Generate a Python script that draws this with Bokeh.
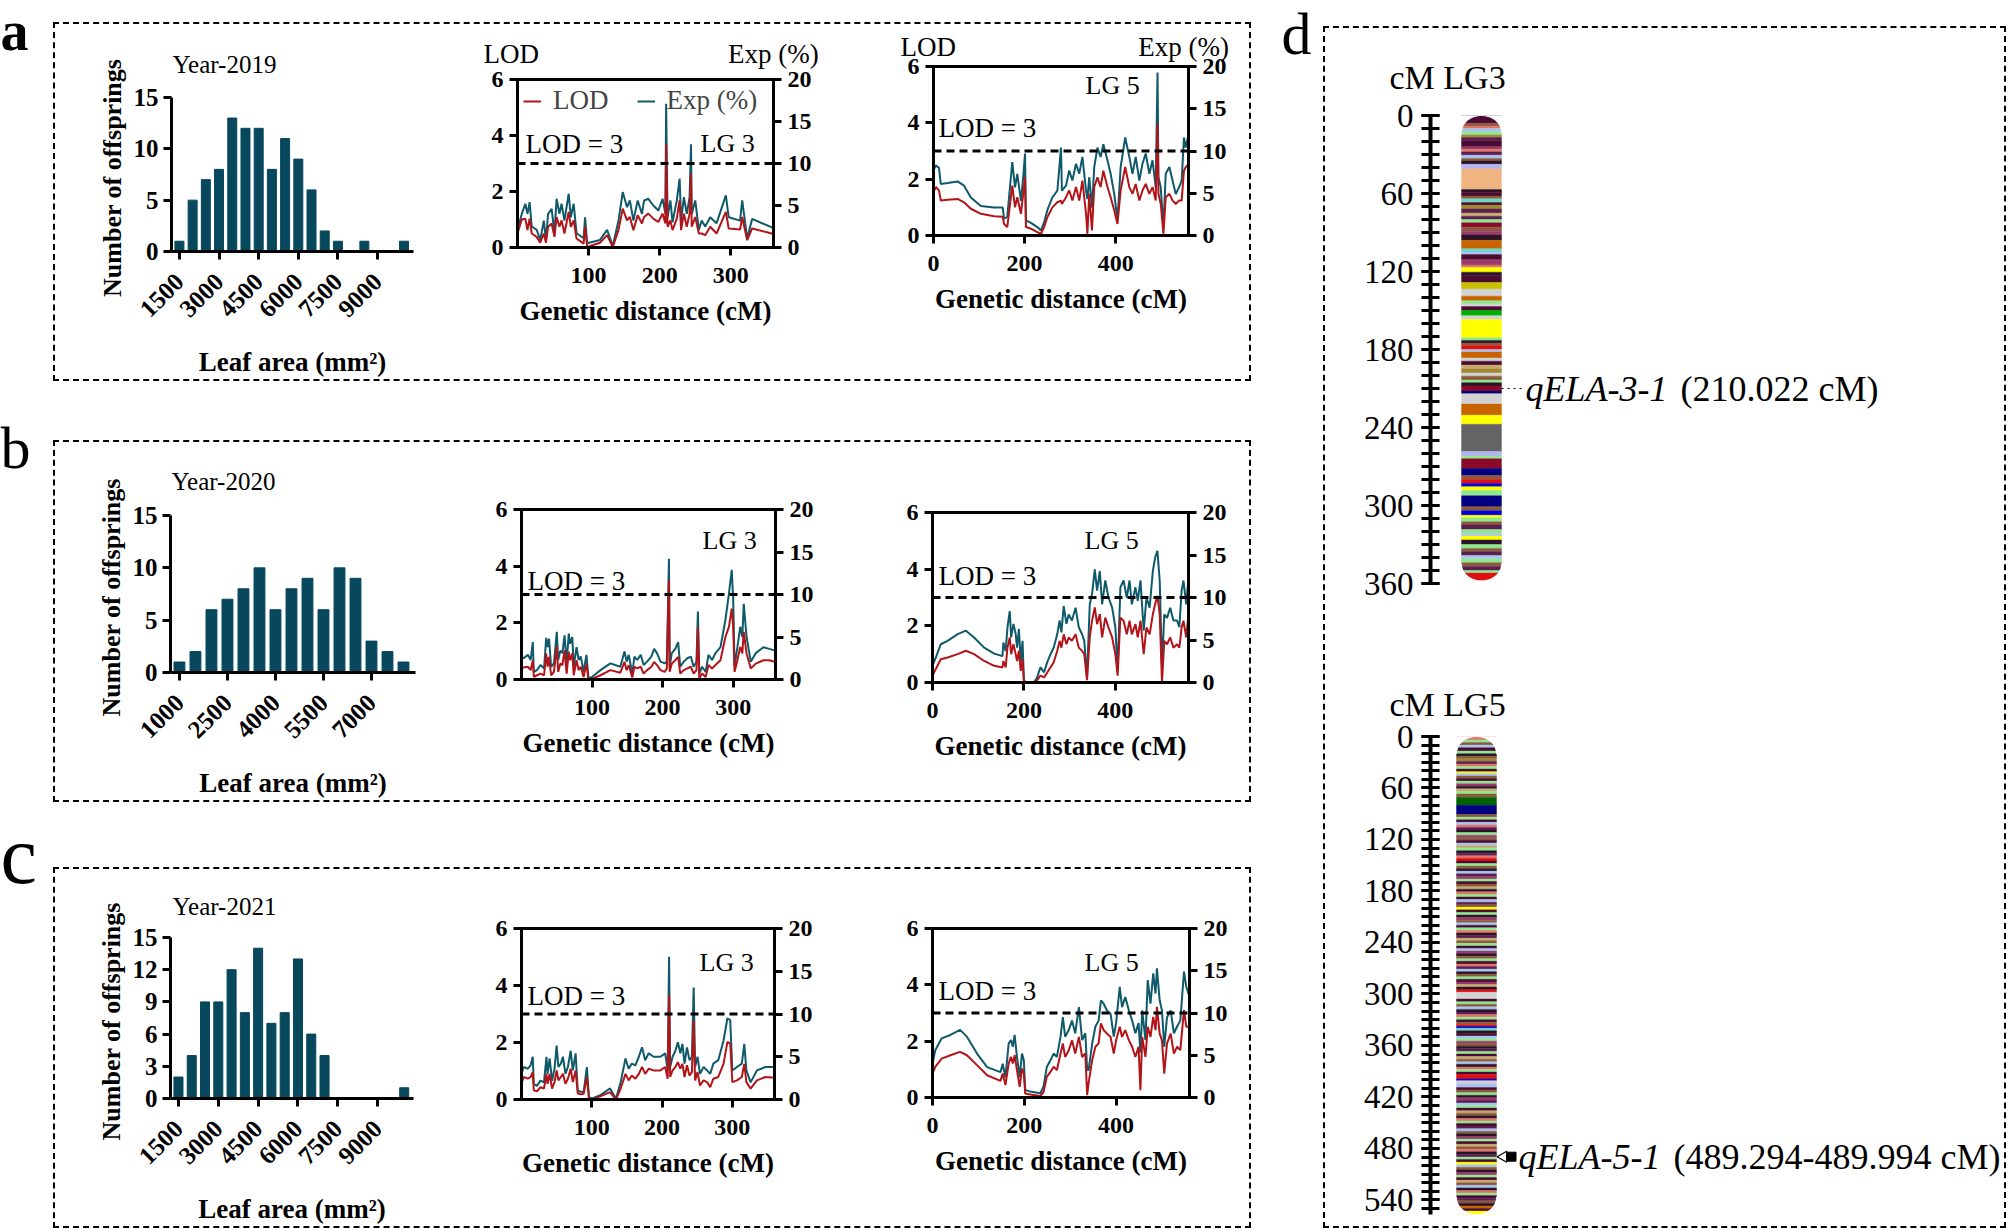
import math
import numpy as np
from bokeh.plotting import figure
from bokeh.models import (Range1d, LinearAxis, FixedTicker, Span, Label, Legend,
                          LegendItem, Spacer)
from bokeh.layouts import row, column
from bokeh.embed import file_html
from bokeh.resources import INLINE
from bokeh.core.properties import value

# ---------------------------------------------------------------- data
# histograms: bin centre (leaf area, mm2) and number of offsprings
H2019_BINS = [1500, 2000, 2500, 3000, 3500, 4000, 4500, 5000, 5500, 6000, 6500, 7000, 7500, 8500, 10000]
H2019_COUNTS = [1, 5, 7, 8, 13, 12, 12, 8, 11, 9, 6, 2, 1, 1, 1]
H2020_BINS = [1000, 1500, 2000, 2500, 3000, 3500, 4000, 4500, 5000, 5500, 6000, 6500, 7000, 7500, 8000]
H2020_COUNTS = [1, 2, 6, 7, 8, 10, 6, 8, 9, 6, 10, 9, 3, 2, 1]
H2021_BINS = [1500, 2000, 2500, 3000, 3500, 4000, 4500, 5000, 5500, 6000, 6500, 7000, 10000]
H2021_COUNTS = [2, 4, 9, 9, 12, 8, 14, 7, 8, 13, 6, 4, 1]
H_XTICKS_A = [1500, 3000, 4500, 6000, 7500, 9000]
H_XTICKS_B = [1000, 2500, 4000, 5500, 7000]

# QTL scans: (genetic distance cM, LOD, Exp %)
Y2019_LG3 = [
    (0, 0.50, 2.1), (6, 1.00, 4.0), (11, 1.03, 5.2), (14, 0.62, 4.0), (17, 1.03, 5.4),
    (20, 0.50, 2.5), (27, 0.38, 2.1), (32, 0.17, 0.9), (37, 0.50, 3.2), (40, 0.17, 0.9),
    (43, 0.74, 4.0), (48, 0.86, 4.6), (52, 0.38, 1.7), (55, 1.09, 5.8), (59, 0.74, 4.0),
    (62, 0.97, 5.2), (66, 0.50, 3.2), (72, 1.27, 6.4), (75, 0.74, 3.6), (79, 0.97, 5.2),
    (83, 0.32, 1.7), (93, 0.14, 1.1), (95, 0.74, 3.6), (98, 0.02, 0.5), (116, 0.17, 0.9),
    (126, 0.44, 2.1), (134, 0.02, 0.2), (142, 0.62, 3.2), (148, 1.39, 6.6), (154, 0.97, 4.8),
    (158, 1.09, 5.6), (163, 0.62, 3.2), (169, 1.15, 5.6), (175, 0.86, 4.0), (178, 1.09, 5.6),
    (184, 1.21, 5.8), (191, 1.03, 5.0), (198, 0.91, 4.4), (204, 1.21, 5.8), (208, 0.86, 4.0),
    (209, 3.70, 17.1), (211, 0.74, 3.6), (215, 0.97, 5.6), (218, 0.62, 3.0), (224, 1.03, 5.6),
    (228, 1.69, 8.2), (230, 0.62, 3.2), (234, 1.21, 6.0), (238, 0.74, 4.0), (242, 1.21, 6.0),
    (244, 2.64, 12.3), (245, 0.74, 4.0), (250, 1.09, 5.6), (255, 0.50, 2.1), (259, 0.50, 3.2),
    (264, 0.44, 2.5), (271, 0.74, 3.6), (280, 0.50, 2.9), (293, 1.27, 6.2), (297, 0.68, 3.6),
    (313, 0.64, 3.2), (316, 1.09, 5.6), (323, 0.26, 1.1), (330, 0.68, 3.4), (360, 0.48, 2.3),
]
Y2019_LG5 = [
    (0, 1.54, 7.7), (5, 1.72, 8.3), (12, 1.60, 8.0), (16, 1.24, 6.1), (31, 1.27, 6.2),
    (53, 1.30, 6.4), (67, 1.18, 5.9), (82, 0.95, 4.5), (104, 0.77, 3.5), (133, 0.68, 3.3),
    (152, 0.67, 3.3), (155, 0.41, 2.0), (162, 0.30, 2.2), (173, 1.77, 8.7), (179, 1.00, 5.7),
    (184, 1.36, 7.3), (192, 0.77, 4.1), (197, 1.48, 6.9), (201, 2.07, 9.7), (203, 0.30, 1.8),
    (214, 0.24, 1.5), (228, 0.12, 1.0), (236, 0.06, 0.6), (243, 0.30, 1.6), (250, 0.65, 3.0),
    (261, 1.00, 4.5), (272, 1.18, 5.3), (280, 1.24, 10.4), (282, 1.12, 5.3), (291, 1.36, 5.9),
    (298, 1.60, 7.7), (305, 1.24, 6.5), (313, 1.72, 8.5), (320, 1.24, 7.3), (327, 1.95, 9.3),
    (335, 0.77, 5.3), (338, 0.06, 4.3), (342, 1.48, 6.9), (348, 0.18, 3.3), (353, 1.72, 8.1),
    (360, 2.07, 10.4), (367, 1.72, 9.3), (373, 2.30, 10.8), (382, 1.72, 8.9), (389, 1.36, 7.3),
    (397, 0.89, 4.9), (404, 0.41, 1.8), (411, 1.60, 8.1), (421, 2.43, 11.6), (430, 1.72, 9.3),
    (437, 1.48, 7.3), (444, 1.83, 9.3), (452, 1.24, 6.5), (459, 1.60, 8.5), (466, 1.83, 9.7),
    (474, 1.48, 7.3), (481, 1.72, 8.9), (488, 1.24, 5.7), (492, 3.96, 19.3), (494, 1.48, 6.9),
    (499, 1.12, 5.7), (505, 0.06, 1.0), (510, 1.36, 7.3), (518, 1.48, 8.1), (525, 1.24, 6.5),
    (532, 1.12, 4.9), (539, 1.24, 5.7), (545, 1.24, 6.5), (550, 2.30, 11.6), (554, 2.43, 10.4),
    (560, 2.54, 12.0),
]
Y2020_LG3 = [
    (0, 0.45, 2.7), (3, 0.42, 2.5), (9, 0.45, 2.9), (13, 0.33, 2.3), (16, 0.68, 4.4),
    (17.5, 0.09, 0.9), (22, 0.15, 1.1), (27, 0.21, 1.7), (32, 0.15, 1.3), (35, 0.92, 4.9),
    (37, 0.45, 3.8), (39, 0.80, 4.8), (42, 0.15, 1.5), (46, 0.27, 1.9), (50, 1.15, 5.6),
    (52, 0.27, 2.3), (55, 0.56, 3.4), (58, 0.51, 3.1), (61, 1.03, 5.2), (64, 0.21, 1.9),
    (67, 0.98, 5.4), (69, 0.68, 4.2), (72, 0.92, 5.0), (74, 0.15, 1.5), (78, 0.68, 3.8),
    (81, 0.33, 2.3), (84, 0.45, 2.7), (88, 0.09, 0.9), (92, 0.56, 2.9), (95, 0.00, 0.1),
    (100, 0.02, 0.3), (112, 0.15, 1.1), (126, 0.33, 1.9), (140, 0.24, 1.5), (146, 0.62, 3.3),
    (149, 0.33, 2.1), (152, 0.51, 2.9), (157, 0.07, 0.7), (160, 0.45, 2.7), (164, 0.39, 2.3),
    (169, 0.45, 2.9), (173, 0.21, 1.7), (178, 0.33, 2.1), (184, 0.45, 2.7), (188, 0.62, 3.6),
    (192, 0.51, 3.1), (197, 0.33, 2.1), (203, 0.27, 1.9), (206, 0.39, 2.1), (209, 3.50, 14.2),
    (210, 0.27, 1.5), (213, 0.56, 3.1), (218, 0.68, 3.6), (222, 0.80, 4.4), (225, 0.21, 1.5),
    (230, 0.33, 2.1), (235, 0.39, 2.5), (240, 0.45, 2.7), (244, 0.21, 1.5), (248, 0.33, 2.1),
    (250, 1.86, 8.0), (252, 0.04, 0.7), (256, 0.21, 1.5), (261, 0.09, 0.9), (265, 0.51, 2.9),
    (270, 0.39, 2.3), (275, 0.51, 3.1), (282, 0.68, 3.8), (289, 1.50, 7.0), (294, 1.86, 10.1),
    (298, 2.50, 12.9), (300, 1.86, 9.5), (302, 0.27, 1.5), (306, 0.68, 3.8), (310, 1.15, 6.2),
    (313, 0.92, 5.0), (315, 1.68, 8.9), (319, 0.92, 5.0), (325, 0.39, 2.1), (332, 0.56, 3.1),
    (343, 0.68, 3.8), (351, 0.68, 3.6), (360, 0.62, 3.4),
]
Y2020_LG5 = [
    (0, 0.24, 2.0), (7, 0.47, 2.9), (18, 0.82, 4.5), (33, 0.88, 4.9), (55, 1.00, 5.7),
    (73, 1.12, 6.1), (91, 1.00, 5.3), (113, 0.76, 4.1), (135, 0.59, 3.4), (153, 0.53, 3.1),
    (155, 0.76, 4.7), (160, 0.53, 3.7), (164, 1.23, 6.5), (169, 1.59, 8.4), (172, 1.00, 5.3),
    (177, 1.35, 6.9), (182, 1.00, 5.7), (185, 0.76, 4.1), (189, 1.12, 6.3), (193, 0.41, 2.5),
    (197, 0.82, 4.9), (200, 0.02, 0.2), (207, 0.00, 0.0), (222, 0.00, 0.0), (229, 0.08, 0.6),
    (236, 0.24, 1.8), (244, 0.18, 1.2), (251, 0.35, 2.4), (258, 0.53, 3.3), (265, 0.71, 4.1),
    (273, 1.12, 5.7), (278, 1.47, 7.3), (282, 1.23, 5.9), (287, 1.70, 9.0), (293, 1.35, 6.9),
    (298, 1.59, 8.0), (305, 1.47, 7.3), (313, 1.70, 8.8), (320, 1.23, 6.5), (327, 1.12, 5.7),
    (332, 1.00, 4.9), (338, 0.08, 0.6), (344, 1.59, 9.2), (349, 2.18, 10.4), (355, 2.65, 13.3),
    (360, 2.06, 10.8), (366, 2.41, 13.1), (371, 1.59, 9.2), (378, 2.29, 12.0), (385, 1.94, 10.0),
    (393, 1.59, 8.8), (400, 1.00, 6.5), (405, 0.24, 1.4), (411, 2.29, 11.2), (418, 2.18, 12.0),
    (425, 1.70, 10.0), (431, 2.18, 12.0), (436, 1.70, 9.2), (444, 2.06, 11.2), (449, 1.59, 9.6),
    (455, 2.18, 12.0), (462, 1.00, 6.1), (468, 1.94, 10.0), (475, 1.70, 8.8), (482, 2.41, 13.1),
    (487, 2.76, 14.7), (492, 3.06, 15.5), (497, 2.41, 12.0), (502, 0.00, 1.8), (507, 1.47, 8.0),
    (513, 1.35, 7.6), (520, 1.59, 8.8), (527, 1.23, 7.3), (535, 1.35, 7.3), (540, 1.23, 6.5),
    (545, 1.94, 10.8), (549, 2.18, 12.0), (555, 1.59, 9.2), (560, 2.41, 12.3),
]
Y2021_LG3 = [
    (0, 0.55, 3.0), (3, 0.79, 3.8), (9, 0.73, 3.6), (13, 0.79, 4.0), (16, 0.96, 5.0),
    (17.5, 0.32, 1.8), (22, 0.29, 1.6), (27, 0.43, 2.2), (32, 0.38, 2.0), (35.5, 0.90, 5.0),
    (37, 0.55, 3.0), (40, 0.90, 4.8), (43.5, 0.38, 2.2), (47, 0.61, 3.6), (50, 1.02, 6.3),
    (52.5, 0.67, 3.8), (56, 0.79, 4.2), (59, 0.90, 5.0), (62.5, 0.55, 3.0), (66, 0.73, 3.8),
    (70, 1.08, 5.7), (73, 0.61, 3.4), (77, 1.02, 5.4), (80, 0.22, 1.1), (84, 0.18, 0.9),
    (88.5, 0.20, 0.9), (93, 0.79, 3.8), (96, 0.02, 0.3), (100, 0.00, 0.1), (112, 0.11, 0.5),
    (126, 0.26, 1.3), (134.5, 0.00, 0.1), (141, 0.38, 2.0), (148, 0.90, 4.8), (152.5, 0.67, 3.6),
    (157, 0.84, 4.2), (162, 0.73, 4.0), (167, 0.90, 5.0), (171.5, 1.14, 6.1), (176, 0.90, 4.6),
    (181, 1.08, 5.4), (188, 1.02, 5.0), (197.5, 1.02, 5.0), (204.5, 1.14, 5.4), (208, 0.73, 3.4),
    (210, 3.66, 16.7), (211.5, 0.79, 3.8), (215, 1.02, 5.0), (219, 1.14, 5.7), (222.5, 1.31, 6.7),
    (226, 1.08, 5.4), (229, 1.25, 6.5), (232, 0.79, 4.2), (235.5, 1.20, 6.1), (239, 0.84, 4.6),
    (242.5, 0.96, 5.0), (245, 2.78, 13.1), (247, 0.67, 3.8), (250.5, 0.96, 5.0), (254, 0.49, 3.0),
    (259, 0.67, 3.8), (264, 0.61, 3.4), (268.5, 0.43, 3.0), (273, 0.73, 4.2), (280, 0.79, 4.6),
    (287.5, 1.25, 6.9), (293, 2.02, 9.5), (297, 1.96, 9.3), (300, 0.61, 3.4), (306.5, 0.67, 3.8),
    (313.5, 0.79, 4.2), (317, 1.25, 6.5), (320, 0.61, 3.4), (326, 0.38, 2.0), (335, 0.67, 3.4),
    (347, 0.79, 3.8), (360, 0.76, 3.8),
]
Y2021_LG5 = [
    (0, 0.85, 4.0), (6, 1.09, 5.6), (20, 1.38, 7.0), (39, 1.50, 7.4), (60, 1.62, 8.0),
    (75, 1.50, 7.2), (97, 1.15, 5.2), (119, 0.79, 3.6), (148, 0.59, 3.0), (153, 0.85, 4.0),
    (159, 0.44, 2.4), (166, 1.21, 6.4), (171, 1.44, 6.8), (175, 1.21, 6.0), (179, 1.50, 7.4),
    (184, 0.97, 4.8), (190, 0.38, 2.4), (195, 1.03, 5.2), (199, 0.85, 4.4), (202, 0.14, 0.9),
    (213, 0.11, 0.7), (235, 0.05, 0.5), (242, 0.20, 1.3), (249, 0.73, 3.6), (257, 0.91, 4.4),
    (264, 1.09, 5.2), (271, 0.97, 4.8), (279, 1.56, 7.2), (284, 1.92, 9.5), (289, 1.44, 7.2),
    (297, 1.68, 8.0), (304, 2.03, 9.1), (311, 1.56, 7.6), (319, 2.15, 10.7), (326, 1.44, 6.8),
    (333, 1.56, 7.6), (337, 0.08, 3.3), (340, 0.50, 3.2), (348, 1.33, 6.4), (355, 1.80, 8.4),
    (362, 1.92, 9.1), (367, 2.63, 11.5), (373, 2.39, 11.1), (380, 2.27, 10.3), (388, 2.15, 9.9),
    (395, 1.56, 7.2), (400, 2.03, 8.8), (408, 2.51, 13.1), (413, 2.15, 10.7), (420, 2.39, 11.9),
    (428, 2.03, 10.3), (435, 1.80, 9.1), (442, 1.44, 7.6), (449, 1.80, 8.8), (453, 0.26, 5.3),
    (457, 2.15, 10.3), (464, 1.44, 6.8), (469, 2.51, 13.9), (475, 2.15, 11.1), (481, 2.86, 14.7),
    (486, 2.39, 12.3), (489, 3.22, 15.3), (495, 2.27, 11.5), (500, 2.03, 10.3), (505, 0.85, 6.0),
    (511, 1.92, 9.5), (519, 2.27, 10.3), (526, 1.56, 7.6), (533, 1.80, 8.4), (540, 1.68, 9.1),
    (548, 3.10, 14.9), (553, 2.51, 13.1), (560, 2.51, 11.9),
]

# linkage map colour codes and bands (start cM, colour code)
PALETTE = {
    "M": "#4a0c30", "B": "#8b5a3c", "S": "#e0746a", "G": "#8fe88f", "C": "#6fd4c4",
    "L": "#a9c4f0", "Y": "#ffff00", "O": "#c86400", "K": "#2a1428", "R": "#e01010",
    "N": "#000080", "D": "#006400", "E": "#d2d2d2", "T": "#c8aa70", "V": "#a08830",
    "H": "#646464", "U": "#0000dd", "A": "#f0b482", "W": "#b4b4f0", "I": "#00b000",
    "X": "#9a3a6a", "P": "#5a1e50", "Q": "#8b0a2a", "Z": "#c8c000",
}
LG3_BANDS = [
    (0, "M"), (6, "B"), (8, "S"), (10, "L"), (12.5, "G"), (15, "V"), (17, "P"), (19.5, "M"),
    (24, "X"), (26, "S"), (28, "P"), (30.5, "L"), (33, "B"), (35, "K"), (37.5, "W"), (41, "A"),
    (57, "K"), (59, "M"), (62, "B"), (64, "C"), (67, "M"), (69, "V"), (72, "P"), (75, "T"),
    (77.5, "P"), (80, "G"), (82.5, "Q"), (86, "B"), (89, "X"), (92, "K"), (96, "O"), (102.5, "C"),
    (105, "L"), (107, "M"), (111, "X"), (115, "S"), (117, "Y"), (120.5, "K"), (123, "M"),
    (128.5, "Z"), (133.5, "E"), (139, "O"), (142.5, "G"), (145, "E"), (147, "M"), (150, "I"),
    (154, "E"), (157, "Y"), (171, "G"), (173, "K"), (175, "B"), (177, "R"), (180, "L"),
    (182, "O"), (186.5, "E"), (189, "M"), (192, "T"), (195, "V"), (198, "E"), (200.5, "B"),
    (203.5, "G"), (205.5, "K"), (208, "Q"), (212, "N"), (214, "E"), (222, "O"), (230.5, "Y"),
    (237.5, "H"), (258.5, "W"), (262, "G"), (264, "Q"), (271.5, "N"), (277, "B"), (280, "R"),
    (283, "U"), (285.5, "Y"), (288.5, "G"), (292.5, "N"), (301, "B"), (304, "U"), (307.5, "Y"),
    (309.5, "G"), (312.5, "B"), (315, "P"), (318.5, "G"), (321.5, "L"), (323.5, "Y"),
    (326.5, "K"), (330, "G"), (333, "B"), (335.5, "P"), (338.5, "L"), (341, "G"), (344, "B"),
    (347, "P"), (350, "G"), (352, "R"),
]
LG3_END = 358
LG5_BANDS = [
    (0, "S"), (4, "G"), (7, "B"), (10, "L"), (13, "M"), (17, "G"), (20, "K"), (23, "B"),
    (26, "V"), (29, "P"), (32, "S"), (35, "G"), (38, "M"), (41, "Y"), (43, "L"), (46, "B"),
    (49, "M"), (52, "G"), (55, "X"), (58, "K"), (61, "T"), (64, "G"), (67, "B"), (71, "D"),
    (80, "N"), (91, "B"), (94, "G"), (97, "M"), (100, "L"), (103, "S"), (106, "P"), (109, "K"),
    (112, "G"), (115, "X"), (118, "B"), (121, "M"), (124, "L"), (127, "T"), (130, "G"),
    (133, "K"), (136, "P"), (139, "S"), (142, "R"), (145, "M"), (148, "G"), (151, "B"),
    (154, "K"), (157, "L"), (160, "P"), (163, "X"), (166, "G"), (169, "M"), (172, "B"),
    (175, "T"), (178, "K"), (181, "S"), (184, "G"), (187, "M"), (190, "L"), (193, "P"),
    (196, "B"), (199, "Y"), (202, "M"), (205, "G"), (208, "K"), (211, "X"), (214, "B"),
    (217, "L"), (220, "M"), (223, "G"), (226, "S"), (229, "K"), (232, "P"), (235, "T"),
    (238, "B"), (241, "G"), (244, "M"), (247, "L"), (250, "X"), (253, "K"), (256, "B"),
    (259, "G"), (262, "M"), (265, "S"), (268, "P"), (271, "L"), (274, "K"), (277, "B"),
    (280, "G"), (283, "M"), (286, "X"), (289, "T"), (292, "K"), (295, "R"), (298, "E"),
    (306, "M"), (309, "G"), (312, "B"), (315, "L"), (318, "K"), (321, "P"), (324, "S"),
    (327, "G"), (330, "M"), (333, "B"), (336, "R"), (338, "U"), (340, "C"), (343, "K"),
    (346, "M"), (349, "L"), (352, "G"), (355, "X"), (358, "B"), (361, "K"), (364, "P"),
    (367, "G"), (370, "M"), (373, "T"), (376, "B"), (379, "L"), (382, "K"), (385, "S"),
    (388, "G"), (391, "M"), (394, "R"), (399, "U"), (401, "E"), (405, "L"), (409, "M"),
    (412, "B"), (415, "G"), (418, "K"), (421, "X"), (424, "P"), (427, "L"), (430, "G"),
    (433, "M"), (436, "T"), (439, "B"), (442, "K"), (445, "S"), (448, "G"), (451, "M"),
    (454, "P"), (457, "L"), (460, "B"), (463, "K"), (466, "X"), (469, "G"), (472, "M"),
    (475, "T"), (478, "B"), (481, "S"), (484, "K"), (487, "P"), (490, "G"), (493, "M"),
    (496, "Y"), (499, "L"), (502, "B"), (505, "K"), (508, "X"), (511, "G"), (514, "M"),
    (517, "T"), (520, "B"), (523, "L"), (526, "K"), (529, "S"), (532, "G"), (535, "M"),
    (538, "P"), (541, "B"), (544, "K"), (547, "O"), (550, "M"), (553, "Y"),
]
LG5_END = 557
LG3_TICKS = [0, 60, 120, 180, 240, 300, 360]
LG5_TICKS = [0, 60, 120, 180, 240, 300, 360, 420, 480, 540]
QTL3_POS = 210.022
QTL5_POS = (489.294, 489.994)

# ---------------------------------------------------------------- style
SERIF = "Liberation Serif"
BAR = "#07485c"
RED = "#b3141a"
TEAL = "#0f5a6a"
BOX = {"border": "2px dashed #000000"}
NB = "\u00a0"


def new_fig(**kw):
    p = figure(output_backend="svg", toolbar_location=None, **kw)
    if "frame_align" in p.properties():
        p.frame_align = False
    p.xgrid.visible = False
    p.ygrid.visible = False
    p.background_fill_color = "white"
    p.border_fill_color = "white"
    return p


def style_axis(ax, size="24px", bold=True):
    ax.axis_line_width = 3
    ax.axis_line_color = "black"
    ax.major_tick_line_width = 3
    ax.major_tick_line_color = "black"
    ax.major_tick_out = 8
    ax.major_tick_in = 0
    ax.minor_tick_line_color = None
    ax.major_label_text_font = SERIF
    ax.major_label_text_font_style = "bold" if bold else "normal"
    ax.major_label_text_font_size = size
    ax.major_label_text_color = "black"
    ax.axis_label_text_font = SERIF
    ax.axis_label_text_font_style = "bold"
    ax.axis_label_text_font_size = "27px"
    ax.axis_label_text_color = "black"


def set_title(p, text, size, offset, standoff):
    p.title.text = text
    p.title.align = "left"
    p.title.offset = offset
    p.title.standoff = standoff
    p.title.text_font = SERIF
    p.title.text_font_style = "normal"
    p.title.text_font_size = size
    p.title.text_color = "black"


def lab(p, x, y, text, size="27px", align="left", style="normal"):
    p.add_layout(Label(x=x, y=y, text=text, text_font=SERIF, text_font_size=size,
                       text_font_style=style, text_align=align, text_baseline="middle",
                       text_color="black"))


def hist_fig(bins, counts, xr, xticks, yticks, W, H, bl, br, bt, bb, title, toff, tstand):
    p = new_fig(width=W, height=H, x_range=Range1d(*xr), y_range=Range1d(0, 15),
                min_border_left=bl, min_border_right=br, min_border_top=bt, min_border_bottom=bb)
    p.outline_line_color = None
    p.vbar(x=bins, top=counts, width=340, color=BAR)
    for ax in (p.xaxis[0], p.yaxis[0]):
        style_axis(ax, "25px")
    p.xaxis.ticker = FixedTicker(ticks=xticks)
    p.yaxis.ticker = FixedTicker(ticks=yticks)
    p.xaxis.major_label_orientation = math.pi / 4
    p.xaxis.major_label_standoff = 18
    p.xaxis.axis_label = "Leaf area (mm\u00b2)"
    p.xaxis.axis_label_standoff = 19
    p.yaxis.axis_label = "Number of  offsprings"
    p.yaxis.axis_label_text_font_size = "26px"
    p.yaxis.axis_label_standoff = 4
    set_title(p, title, "25px", toff, tstand)
    return p


def lod_fig(data, xmax, xticks, W, H, bl, br, bt, bb, lg, lg_pos, lod_pos,
            header=None, legend=False):
    cm = [d[0] for d in data]
    lod = [d[1] for d in data]
    exp = [d[2] for d in data]
    p = new_fig(width=W, height=H, x_range=Range1d(0, xmax), y_range=Range1d(0, 6),
                min_border_left=bl, min_border_right=br, min_border_top=bt, min_border_bottom=bb)
    p.outline_line_color = "black"
    p.outline_line_width = 3
    p.extra_y_ranges = {"exp": Range1d(0, 20)}
    r_exp = p.line(cm, exp, y_range_name="exp", line_color=TEAL, line_width=2)
    r_lod = p.line(cm, lod, line_color=RED, line_width=2)
    p.add_layout(LinearAxis(y_range_name="exp", ticker=FixedTicker(ticks=[0, 5, 10, 15, 20])), "right")
    for ax in p.xaxis + p.yaxis:
        style_axis(ax, "24px")
        ax.major_label_standoff = 6
    p.xaxis.major_label_standoff = 12
    p.xaxis.ticker = FixedTicker(ticks=xticks)
    p.yaxis[0].ticker = FixedTicker(ticks=[0, 2, 4, 6])
    p.xaxis.axis_label = "Genetic distance (cM)"
    p.xaxis.axis_label_standoff = 10
    p.add_layout(Span(location=3, dimension="width", line_color="black",
                      line_width=3, line_dash="8 5"))
    fw, fh = W - bl - br, H - bt - bb
    fx = lambda dx: xmax * dx / fw
    fy = lambda dy: 6 - 6 * dy / fh
    lab(p, fx(lod_pos[0]), fy(lod_pos[1]), "LOD = 3")
    lab(p, fx(lg_pos[0]), fy(lg_pos[1]), lg, "26px")
    if header:
        # "LOD" over the left axis and "Exp (%)" over the right axis
        set_title(p, "LOD" + NB * header[1] + "Exp (%)", "27px", header[0], header[2])
    if legend:
        leg = Legend(items=[LegendItem(label=value("LOD"), renderers=[r_lod]),
                            LegendItem(label=value("Exp (%)"), renderers=[r_exp])],
                     orientation="horizontal", location="top_left",
                     border_line_color=None, background_fill_alpha=0,
                     label_text_font=SERIF, label_text_font_size="27px",
                     glyph_width=18, glyph_height=20, label_standoff=12, spacing=28,
                     padding=4, margin=6)
        p.add_layout(leg)
    return p


def chrom_fig(W, H, bt, bb, ruler_max, bands, end, ticks, cx, cap, title, tstand):
    bl, br = 105, 3
    fw = W - bl - br
    p = new_fig(width=W, height=H, x_range=Range1d(0, fw), y_range=Range1d(ruler_max, 0),
                x_axis_location=None,
                min_border_left=bl, min_border_right=br, min_border_top=bt, min_border_bottom=bb)
    p.outline_line_color = None
    ax = p.yaxis[0]
    ax.ticker = FixedTicker(ticks=ticks, minor_ticks=list(range(0, int(ruler_max) + 1, 10)))
    ax.axis_line_width = 4
    ax.axis_line_color = "black"
    ax.major_tick_in = 9
    ax.major_tick_out = 9
    ax.major_tick_line_width = 3
    ax.minor_tick_in = 9
    ax.minor_tick_out = 9
    ax.minor_tick_line_width = 3
    ax.minor_tick_line_color = "black"
    ax.major_label_text_font = SERIF
    ax.major_label_text_font_size = "33px"
    ax.major_label_text_color = "black"
    ax.major_label_standoff = 8
    starts = [b[0] for b in bands]
    ends = starts[1:] + [end]
    cols = [PALETTE[b[1]] for b in bands]
    p.quad(left=cx - 20, right=cx + 20, top=starts, bottom=ends, fill_color=cols,
           line_color=cols, line_width=0.4)
    # rounded chromosome ends (white corner masks)
    t = np.linspace(0, math.pi / 2, 24)
    xs, ys = [], []
    for sgn in (-1, 1):
        arcx = list(cx + sgn * 20 * np.cos(t))
        xs.append([cx + sgn * 23] + arcx + [cx, cx + sgn * 23])
        ys.append([cap] + list(cap - cap * np.sin(t)) + [-3, -3])
        xs.append([cx + sgn * 23] + arcx + [cx, cx + sgn * 23])
        ys.append([end - cap] + list(end - cap + cap * np.sin(t)) + [end + 3, end + 3])
    p.patches(xs=xs, ys=ys, fill_color="white", line_color="white", line_width=1)
    set_title(p, title, "34px", -41, tstand)
    return p


def letter_fig(ch, W, H, ymid, size, bold=False):
    p = new_fig(width=W, height=H, x_range=Range1d(0, W), y_range=Range1d(0, H),
                min_border=0, x_axis_location=None, y_axis_location=None)
    p.outline_line_color = None
    p.text(x=[0], y=[H - ymid], text=[ch], text_font=value(SERIF), text_font_size=value(f"{size}px"),
           text_font_style="bold" if bold else "normal", text_baseline="middle",
           text_align="left", text_color="black")
    return p


def wrap(p):
    return column(p)


# ---------------------------------------------------------------- panels a-c
ha = hist_fig(H2019_BINS, H2019_COUNTS, (1200, 10360), H_XTICKS_A, [0, 5, 10, 15],
              400, 355, 116, 42, 73, 120, "Year-2019", 1, 39)
la3 = lod_fig(Y2019_LG3, 360, [100, 200, 300], 405, 355, 62, 87, 55, 132,
              "LG 3", (183, 64), (8, 64), header=(-34, 28, 21), legend=True)
la5 = lod_fig(Y2019_LG5, 560, [0, 200, 400], 389, 355, 73, 61, 42, 144,
              "LG 5", (152, 19), (5, 61), header=(-33, 27, 9))

hb = hist_fig(H2020_BINS, H2020_COUNTS, (720, 8375), H_XTICKS_B, [0, 5, 10, 15],
              400, 358, 115, 40, 73, 120, "Year-2020", 1, 41)
lb3 = lod_fig(Y2020_LG3, 360, [100, 200, 300], 405, 358, 66, 85, 67, 121,
              "LG 3", (181, 31), (6, 71))
lb5 = lod_fig(Y2020_LG5, 560, [0, 200, 400], 389, 358, 72, 61, 70, 118,
              "LG 5", (152, 28), (6, 63))

hc = hist_fig(H2021_BINS, H2021_COUNTS, (1200, 10350), H_XTICKS_A, [0, 3, 6, 9, 12, 15],
              400, 357, 115, 42, 68, 128, "Year-2021", 2, 36)
lc3 = lod_fig(Y2021_LG3, 360, [100, 200, 300], 405, 357, 66, 86, 59, 127,
              "LG 3", (178, 34), (6, 67))
lc5 = lod_fig(Y2021_LG5, 560, [0, 200, 400], 389, 357, 72, 60, 59, 129,
              "LG 5", (152, 34), (6, 62))

box_a = row(wrap(ha), wrap(la3), wrap(la5), styles=BOX)
box_b = row(wrap(hb), wrap(lb3), wrap(lb5), styles=BOX)
box_c = row(wrap(hc), wrap(lc3), wrap(lc5), styles=BOX)

pa = row(wrap(letter_fig("a", 53, 80, 30.5, 56, bold=True)), column(Spacer(height=22), box_a))
pb = row(wrap(letter_fig("b", 53, 100, 52.7, 60)), column(Spacer(height=45), box_b))
pc = row(wrap(letter_fig("c", 53, 100, 50, 82)), column(Spacer(height=62), box_c))
left = column(pa, Spacer(height=14), pb, Spacer(height=3), pc)

# ---------------------------------------------------------------- panel d
g3 = chrom_fig(679, 642, 87, 87, 360, LG3_BANDS, LG3_END, LG3_TICKS, 51, 13, "cM LG3", 40)
g3.line(x=[71, 94], y=[QTL3_POS, QTL3_POS], line_color="black", line_width=1, line_dash="dotted")
lab(g3, 95, QTL3_POS, "qELA-3-1", "36px", style="italic")
lab(g3, 250, QTL3_POS, "(210.022 cM)", "36px")

g5 = chrom_fig(679, 556, 66, 12, 557, LG5_BANDS, LG5_END, LG5_TICKS, 46, 20, "cM LG5", 27)
q5 = sum(QTL5_POS) / 2
g5.scatter(x=[73], y=[q5], marker="triangle", angle=math.pi / 2, size=11,
           fill_color="white", line_color="black", line_width=1.2)
g5.scatter(x=[81], y=[q5], marker="square", size=9, color="black")
lab(g5, 88, q5, "qELA-5-1", "36px", style="italic")
lab(g5, 243, q5, "(489.294-489.994 cM)", "36px")

box_d = column(wrap(g3), wrap(g5), styles=BOX)
pd = row(wrap(letter_fig("d", 42, 80, 33, 60)), column(Spacer(height=26), box_d))

root = row(left, Spacer(width=30), pd)

open("out.html", "w").write(file_html(root, INLINE))
